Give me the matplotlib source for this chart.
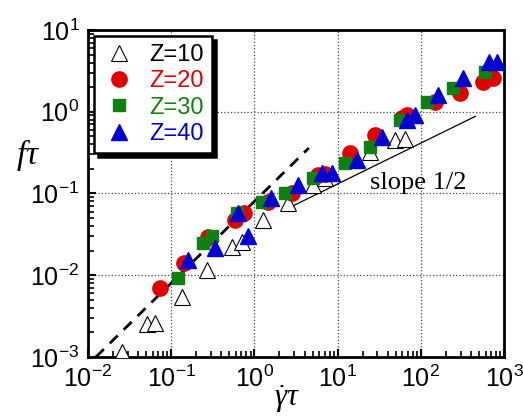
import matplotlib
matplotlib.use("Agg")
import matplotlib.pyplot as plt
import numpy as np

plt.rcParams['font.family'] = ['Liberation Sans', 'DejaVu Sans']
plt.rcParams['mathtext.fontset'] = 'custom'
plt.rcParams['mathtext.rm'] = 'Liberation Sans'
plt.rcParams['mathtext.it'] = 'Liberation Serif:italic'

# Z=10 (open triangles)
x10 = [0.026, 0.051, 0.064, 0.135, 0.27, 0.54, 0.71, 1.27, 2.5, 5.0, 7.1, 24.5, 49, 65]
y10 = [0.00115, 0.0025, 0.0026, 0.0054, 0.0116, 0.022, 0.0255, 0.048, 0.076, 0.127, 0.155, 0.32, 0.45, 0.46]
# Z=20 (red circles)
x20 = [0.073, 0.143, 0.275, 0.59, 0.75, 1.45, 2.8, 5.8, 7.0, 14, 28, 59, 68, 148, 295, 560, 740]
y20 = [0.007, 0.014, 0.0295, 0.048, 0.058, 0.079, 0.10, 0.17, 0.175, 0.31, 0.52, 0.83, 0.91, 1.32, 1.7, 2.3, 2.6]
# Z=30 (green squares)
x30 = [0.12, 0.24, 0.31, 0.62, 1.23, 2.3, 5.0, 12.3, 24.5, 56, 118, 245, 590]
y30 = [0.0093, 0.025, 0.03, 0.058, 0.079, 0.10, 0.155, 0.235, 0.37, 0.79, 1.32, 1.95, 3.1]
# Z=40 (blue triangles)
x40 = [0.16, 0.34, 0.63, 0.83, 1.6, 3.3, 6.5, 8.6, 17, 34, 68, 85, 160, 320, 650, 830]
y40 = [0.0154, 0.0215, 0.058, 0.030, 0.088, 0.127, 0.18, 0.18, 0.26, 0.49, 0.79, 0.91, 1.6, 2.6, 4.1, 4.1]

# guide lines
dash_x = np.array([0.0125, 4.5])
dash_y = 0.08 * dash_x
half_x = np.array([2.7, 450])
half_y = 0.0414 * np.sqrt(half_x)

fig = plt.figure(figsize=(5.23, 4.17), dpi=100)
ax = fig.add_axes([0.168, 0.144, 0.796, 0.784])

ax.plot(dash_x, dash_y, 'k--', lw=2, dashes=(4, 3), zorder=2)
ax.plot(half_x, half_y, 'k-', lw=0.9, zorder=2)

ax.plot(x10, y10, '^', ms=11, mfc='white', mec='black', mew=0.8, ls='none', label='Z=10', zorder=3)
ax.plot(x20, y20, 'o', ms=11, color='#e00000', ls='none', label='Z=20', zorder=4)
ax.plot(x30, y30, 's', ms=9, color='#108010', ls='none', label='Z=30', zorder=5)
ax.plot(x40, y40, '^', ms=11, color='#0000d0', ls='none', label='Z=40', zorder=6)

ax.set_xscale('log')
ax.set_yscale('log')
ax.set_xlim(1e-2, 1e3)
ax.set_ylim(1e-3, 1e1)

ax.grid(True, which='major', ls=':', color='#444444', lw=0.9)
for s in ax.spines.values():
    s.set_linewidth(2)
ax.tick_params(which='both', direction='in', top=False, right=False, labelsize=18, pad=6)
ax.tick_params(which='major', length=6, width=1.5)
ax.tick_params(which='minor', length=4, width=1.2)

ax.text(24.5, 0.135, 'slope 1/2', family='Liberation Serif', fontsize=19,
        ha='left', va='center')

ax.set_ylabel(r'$f\tau$', fontsize=24, rotation=0, ha='center', va='center')
ax.yaxis.set_label_coords(-0.144, 0.618)
ax.set_xlabel(r'$\dot{\gamma}\tau$', fontsize=22, ha='center', va='center')
ax.xaxis.set_label_coords(0.478, -0.128)

leg = ax.legend(loc='upper left', frameon=True, fancybox=False,
                prop={'family': 'Liberation Sans', 'style': 'normal', 'size': 17},
                shadow={'color': 'black', 'ox': 3, 'oy': -3, 'alpha': 1},
                handletextpad=0.6, borderpad=0.35, labelspacing=0.18,
                handlelength=1.4, borderaxespad=0.25)
leg.get_frame().set_edgecolor('black')
leg.get_frame().set_linewidth(1.8)
for t, c in zip(leg.get_texts(), ['black', '#e00000', '#108010', '#0000d0']):
    t.set_color(c)

plt.savefig('out.png', dpi=100)
